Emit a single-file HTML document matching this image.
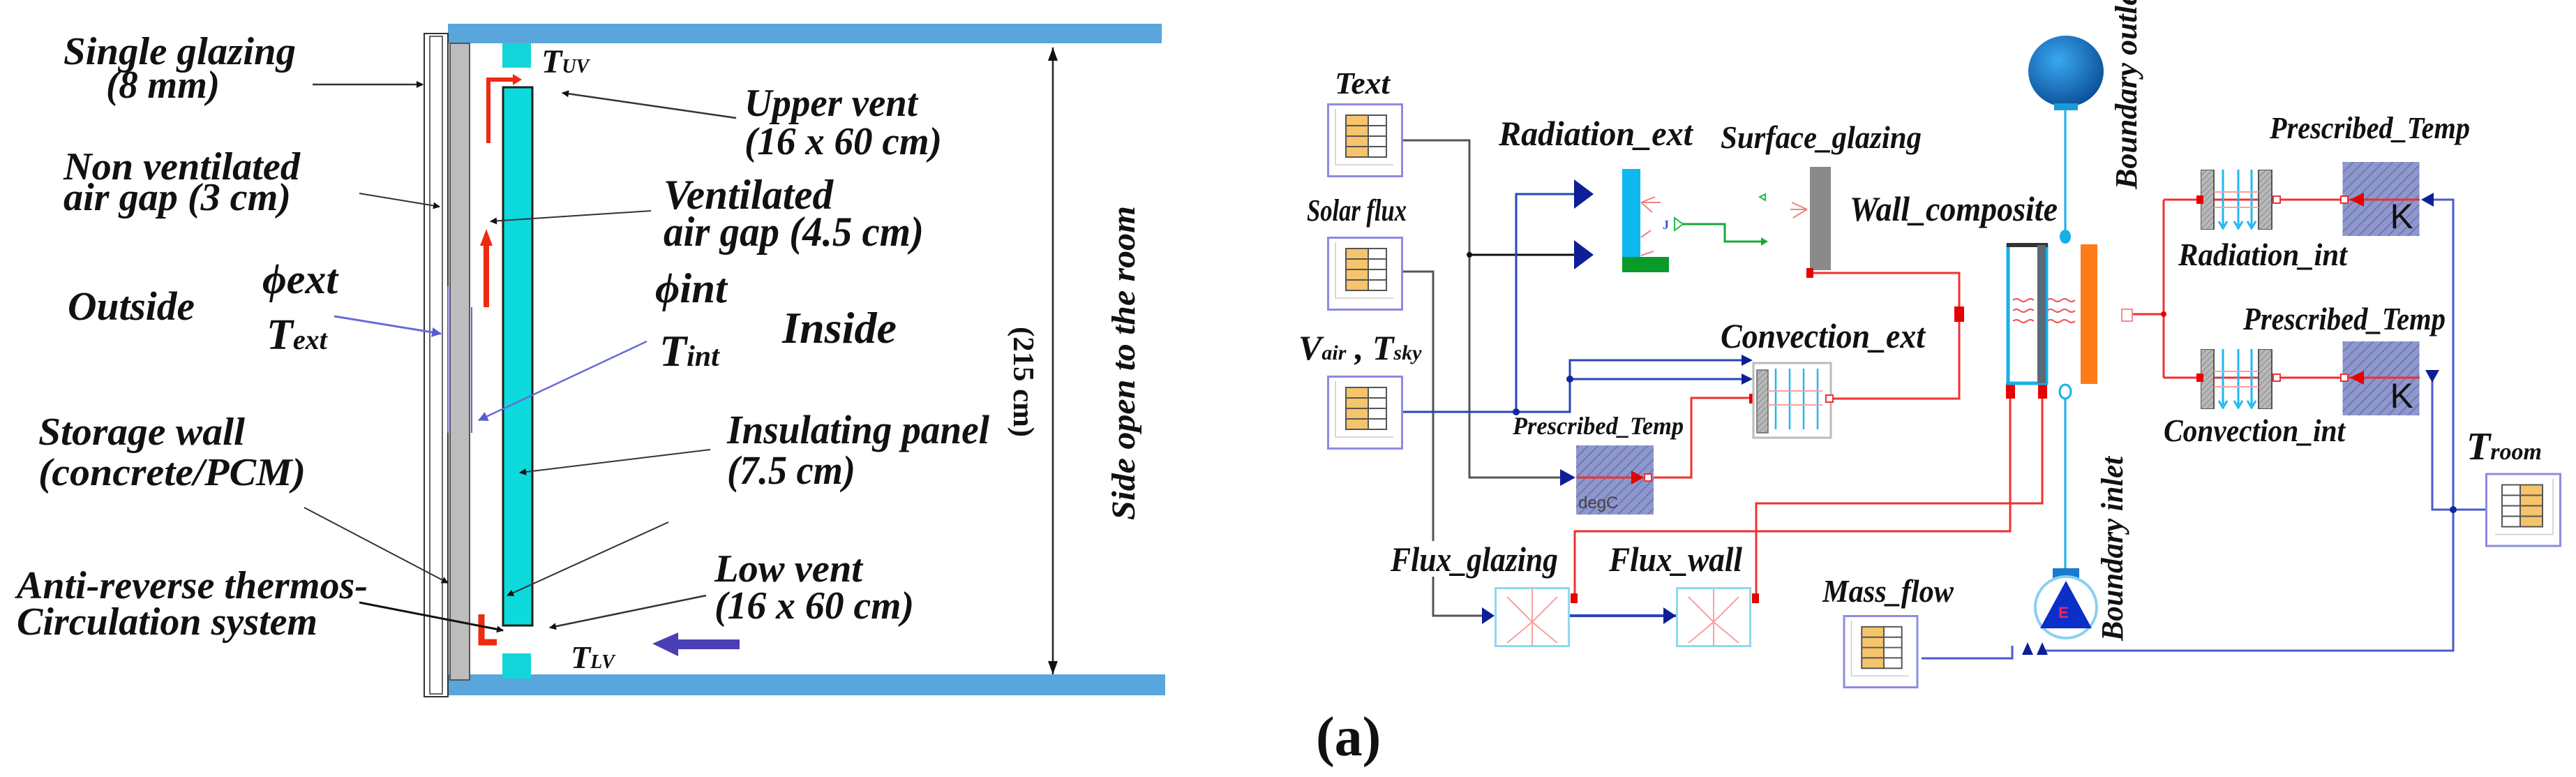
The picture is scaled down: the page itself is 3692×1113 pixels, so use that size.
<!DOCTYPE html>
<html><head><meta charset="utf-8"><style>
html,body{margin:0;padding:0;background:#fff;}
svg{display:block;}
text{font-family:"Liberation Serif",serif;font-style:italic;font-weight:bold;fill:#111;}
</style></head><body>
<svg width="3692" height="1113" viewBox="0 0 3692 1113" xmlns="http://www.w3.org/2000/svg">
<defs>
<pattern id="hatch" width="10" height="10" patternUnits="userSpaceOnUse" patternTransform="rotate(45)">
<rect width="10" height="10" fill="#8f98cc"/><line x1="0" y1="0" x2="0" y2="10" stroke="#6f78b4" stroke-width="4"/></pattern>
<pattern id="ghatch" width="6" height="6" patternUnits="userSpaceOnUse" patternTransform="rotate(45)">
<rect width="6" height="6" fill="#b8b8b8"/><line x1="0" y1="0" x2="0" y2="6" stroke="#888" stroke-width="2"/></pattern>
<symbol id="tbl" viewBox="0 0 109 106">
<rect x="1.5" y="1.5" width="106" height="103" fill="#fff" stroke="#8c8ce0" stroke-width="3"/>
<path d="M12 8 V88 H95" fill="none" stroke="#ccc" stroke-width="1.5"/>
<rect x="27" y="17" width="32" height="60" fill="#f6c46a"/>
<rect x="27" y="17" width="58" height="60" fill="none" stroke="#555" stroke-width="2"/>
<path d="M27 32H85M27 47H85M27 62H85M59 17V77" stroke="#555" stroke-width="2"/>
</symbol>
<symbol id="flux" viewBox="0 0 108 86">
<rect x="1.5" y="1.5" width="105" height="83" fill="#fff" stroke="#8fd8f0" stroke-width="3"/>
<path d="M54 2V84M18 14L54 50L90 80M90 14L54 50L18 80" stroke="#f8a0a0" stroke-width="2" fill="none"/>
</symbol>
<symbol id="intc" viewBox="0 0 104 86">
<rect x="0" y="0" width="19" height="86" fill="url(#ghatch)" stroke="#555" stroke-width="2"/>
<rect x="83" y="0" width="19" height="86" fill="url(#ghatch)" stroke="#555" stroke-width="2"/>
<path d="M32 0V80M54 0V80M73 0V80" stroke="#22b8f0" stroke-width="3"/>
<path d="M26 74l6 10 6-10M48 74l6 10 6-10M67 74l6 10 6-10" fill="none" stroke="#22b8f0" stroke-width="3"/>
<path d="M19 32H83M19 54H83" stroke="#f8a0a0" stroke-width="2"/>
</symbol>
<symbol id="kbox" viewBox="0 0 110 106">
<rect width="110" height="106" fill="url(#hatch)"/>
<text x="68" y="95" style="font-family:'Liberation Sans',sans-serif;font-style:normal;font-weight:normal;font-size:50px;fill:#111">K</text>
</symbol>
<marker id="ah" markerWidth="10" markerHeight="10" refX="9" refY="5" orient="auto" markerUnits="userSpaceOnUse"><path d="M0 0L10 5L0 10z" fill="#111"/></marker>
<marker id="ahb" markerWidth="14" markerHeight="14" refX="13" refY="7" orient="auto" markerUnits="userSpaceOnUse"><path d="M0 0L14 7L0 14z" fill="#5a5ad0"/></marker>
<marker id="ah2" markerWidth="20" markerHeight="20" refX="19" refY="10" orient="auto-start-reverse" markerUnits="userSpaceOnUse"><path d="M0 3L19 10L0 17z" fill="#111"/></marker>
<radialGradient id="sph" cx="0.4" cy="0.35" r="0.7"><stop offset="0" stop-color="#3aa8f0"/><stop offset="1" stop-color="#0a4c96"/></radialGradient>
</defs>

<!-- ================= LEFT DIAGRAM ================= -->
<rect x="642" y="34" width="1023" height="28" fill="#58a6dc"/>
<rect x="642" y="966" width="1028" height="30" fill="#58a6dc"/>
<rect x="608" y="48" width="34" height="950" fill="#fff" stroke="#333" stroke-width="2"/>
<rect x="616" y="52" width="18" height="942" fill="#fff" stroke="#333" stroke-width="1.5"/>
<rect x="645" y="62" width="28" height="912" fill="#bdbdbd" stroke="#555" stroke-width="2"/>
<rect x="720" y="62" width="41" height="35" fill="#12d6da"/>
<rect x="721" y="125" width="42" height="771" fill="#0cdadc" stroke="#222" stroke-width="3"/>
<rect x="720" y="936" width="41" height="36" fill="#12d6da"/>
<path d="M700 205V114H738" fill="none" stroke="#ee2a10" stroke-width="6"/>
<path d="M735 106L748 114L735 122z" fill="#ee2a10"/>
<path d="M697 440V350" stroke="#ee2a10" stroke-width="8"/>
<path d="M688 352L697 328L706 352z" fill="#ee2a10"/>
<path d="M690 880V920H712" fill="none" stroke="#ee2a10" stroke-width="9"/>
<path d="M642 410V620M676 440V620" stroke="#6a5ad8" stroke-width="2"/>
<line x1="479" y1="453" x2="632" y2="478" stroke="#6a6ad8" stroke-width="3" marker-end="url(#ahb)"/>
<line x1="927" y1="489" x2="686" y2="602" stroke="#6a6ad8" stroke-width="2.5" marker-end="url(#ahb)"/>
<path d="M935 922L972 906V916H1060V930H972V940z" fill="#4b3fb5"/>
<line x1="448" y1="121" x2="606" y2="121" stroke="#333" stroke-width="2.5" marker-end="url(#ah)"/>
<line x1="515" y1="277" x2="630" y2="296" stroke="#333" stroke-width="2" marker-end="url(#ah)"/>
<line x1="1055" y1="169" x2="806" y2="133" stroke="#333" stroke-width="2.5" marker-end="url(#ah)"/>
<line x1="933" y1="302" x2="703" y2="317" stroke="#333" stroke-width="2" marker-end="url(#ah)"/>
<line x1="1018" y1="644" x2="745" y2="677" stroke="#333" stroke-width="2" marker-end="url(#ah)"/>
<line x1="958" y1="748" x2="727" y2="853" stroke="#333" stroke-width="2" marker-end="url(#ah)"/>
<line x1="1012" y1="853" x2="788" y2="899" stroke="#333" stroke-width="2.5" marker-end="url(#ah)"/>
<line x1="436" y1="727" x2="642" y2="835" stroke="#333" stroke-width="2" marker-end="url(#ah)"/>
<line x1="515" y1="863" x2="721" y2="903" stroke="#111" stroke-width="3" marker-end="url(#ah)"/>
<line x1="1509" y1="68" x2="1509" y2="966" stroke="#222" stroke-width="2.5" marker-start="url(#ah2)" marker-end="url(#ah2)"/>
<g style="font-weight:normal">
<text x="91" y="92" font-size="56" textLength="333" lengthAdjust="spacingAndGlyphs">Single glazing</text>
<text x="152" y="140" font-size="56" textLength="163" lengthAdjust="spacingAndGlyphs">(8 mm)</text>
<text x="91" y="257" font-size="56" textLength="339" lengthAdjust="spacingAndGlyphs">Non ventilated</text>
<text x="91" y="301" font-size="56" textLength="326" lengthAdjust="spacingAndGlyphs">air gap (3 cm)</text>
<text x="97" y="458" font-size="58" textLength="182" lengthAdjust="spacingAndGlyphs">Outside</text>
<text x="376" y="420" font-size="60" textLength="108" lengthAdjust="spacingAndGlyphs">ϕext</text>
<text x="382" y="500" font-size="62">T<tspan font-size="40">ext</tspan></text>
<text x="55" y="637" font-size="56" textLength="296" lengthAdjust="spacingAndGlyphs">Storage wall</text>
<text x="55" y="695" font-size="56" textLength="383" lengthAdjust="spacingAndGlyphs">(concrete/PCM)</text>
<text x="24" y="857" font-size="56" textLength="503" lengthAdjust="spacingAndGlyphs">Anti-reverse thermos-</text>
<text x="24" y="909" font-size="56" textLength="431" lengthAdjust="spacingAndGlyphs">Circulation system</text>
<text x="776" y="104" font-size="48">T<tspan font-size="28">UV</tspan></text>
<text x="1067" y="166" font-size="56" textLength="248" lengthAdjust="spacingAndGlyphs">Upper vent</text>
<text x="1067" y="221" font-size="56" textLength="283" lengthAdjust="spacingAndGlyphs">(16 x 60 cm)</text>
<text x="951" y="299" font-size="60" textLength="243" lengthAdjust="spacingAndGlyphs">Ventilated</text>
<text x="951" y="352" font-size="60" textLength="373" lengthAdjust="spacingAndGlyphs">air gap (4.5 cm)</text>
<text x="939" y="433" font-size="60" textLength="103" lengthAdjust="spacingAndGlyphs">ϕint</text>
<text x="945" y="524" font-size="64">T<tspan font-size="42">int</tspan></text>
<text x="1121" y="491" font-size="64" textLength="164" lengthAdjust="spacingAndGlyphs">Inside</text>
<text x="1042" y="635" font-size="58" textLength="376" lengthAdjust="spacingAndGlyphs">Insulating panel</text>
<text x="1042" y="693" font-size="58" textLength="184" lengthAdjust="spacingAndGlyphs">(7.5 cm)</text>
<text x="1024" y="833" font-size="56" textLength="212" lengthAdjust="spacingAndGlyphs">Low vent</text>
<text x="1024" y="886" font-size="56" textLength="286" lengthAdjust="spacingAndGlyphs">(16 x 60 cm)</text>
<text x="818" y="957" font-size="46">T<tspan font-size="28">LV</tspan></text>
</g>
<text transform="translate(1453,468) rotate(90)" font-size="42" textLength="158" lengthAdjust="spacingAndGlyphs" style="font-style:normal">(215 cm)</text>
<text transform="translate(1626,745) rotate(-90)" font-size="48" textLength="450" lengthAdjust="spacingAndGlyphs">Side open to the room</text>

<text x="1886" y="1082" font-size="80" style="font-style:normal;font-weight:bold">(a)</text>

<!-- ================= RIGHT DIAGRAM ================= -->
<use href="#tbl" x="1902" y="148" width="109" height="106"/>
<use href="#tbl" x="1902" y="339" width="109" height="106"/>
<use href="#tbl" x="1902" y="538" width="109" height="106"/>
<use href="#tbl" x="2641" y="881" width="109" height="105"/>
<use href="#tbl" x="3562" y="677" width="109" height="107" transform="translate(7233,0) scale(-1,1)"/>
<path d="M2011 201H2106V684H2236" fill="none" stroke="#555" stroke-width="3"/>
<path d="M2106 365H2258" stroke="#111" stroke-width="3"/>
<circle cx="2106" cy="365" r="4" fill="#111"/>
<path d="M2011 389H2054V775M2054 826V882H2124" fill="none" stroke="#555" stroke-width="3"/>
<path d="M2011 590H2250V516H2496M2250 543H2496M2173 590V278H2258" fill="none" stroke="#2a44b8" stroke-width="3"/>
<circle cx="2173" cy="590" r="5" fill="#12279a"/><circle cx="2250" cy="543" r="5" fill="#12279a"/>
<path d="M2256 257L2284 278L2256 299z M2256 344L2284 365L2256 386z" fill="#0d1f96"/>
<path d="M2236 672L2258 684L2236 696z" fill="#0d1f96"/>
<path d="M2496 508L2512 516L2496 524z M2496 535L2512 543L2496 551z" fill="#0d1f96"/>
<path d="M2250 882H2402" stroke="#2a44b8" stroke-width="4"/>
<path d="M2124 870L2142 882L2124 894z M2384 870L2402 882L2384 894z" fill="#0d1f96"/>
<rect x="2325" y="242" width="26" height="128" fill="#10b8f0"/>
<rect x="2325" y="368" width="67" height="22" fill="#0a9a2a"/>
<path d="M2352 290L2372 282M2352 290L2380 290M2352 290L2368 304M2352 340L2366 330M2352 366L2370 360" stroke="#f48080" stroke-width="2"/>
<text x="2383" y="328" font-size="18" style="font-style:normal;fill:#3355cc">J</text>
<path d="M2400 312L2412 321L2400 330z" fill="none" stroke="#22bb44" stroke-width="2"/>
<path d="M2412 321H2472V346H2528" fill="none" stroke="#18a83a" stroke-width="3"/>
<path d="M2524 340L2534 346L2524 352z" fill="#18a83a"/>
<rect x="2594" y="239" width="30" height="148" fill="#8a8a8a"/>
<path d="M2590 300L2568 290M2590 300L2566 300M2590 300L2570 312" stroke="#f48080" stroke-width="2"/>
<path d="M2530 278L2522 282L2530 287z" fill="none" stroke="#22bb44" stroke-width="2"/>
<g fill="none" stroke="#f03030" stroke-width="3">
<path d="M2598 391H2808V571H2624"/>
<path d="M2370 684H2424V570H2513"/>
<path d="M2881 561V761H2257V857"/>
<path d="M2927 561V721H2517V857"/>
<path d="M3057 450H3101M3101 286V541M3101 286H3362M3101 541H3362"/>
</g>
<rect x="2589" y="384" width="10" height="14" fill="#e60000"/>
<rect x="2801" y="439" width="14" height="22" fill="#e60000"/>
<rect x="2507" y="564" width="10" height="14" fill="#e60000"/>
<rect x="2251" y="850" width="10" height="14" fill="#e60000"/>
<rect x="2511" y="850" width="10" height="14" fill="#e60000"/>
<rect x="2875" y="549" width="13" height="22" fill="#e60000"/>
<rect x="2921" y="549" width="13" height="22" fill="#e60000"/>
<rect x="2259" y="638" width="111" height="99" fill="url(#hatch)"/>
<path d="M2260 684H2352" stroke="#f03030" stroke-width="3"/>
<path d="M2338 674L2356 684L2338 694z" fill="#e60000"/>
<rect x="2357" y="679" width="10" height="10" fill="#fff" stroke="#f03030" stroke-width="2"/>
<text x="2262" y="728" font-size="24" style="font-family:'Liberation Sans',sans-serif;font-style:normal;font-weight:normal;fill:#444">degC</text>
<rect x="2513" y="520" width="111" height="107" fill="#fff" stroke="#bbb" stroke-width="3"/>
<rect x="2518" y="530" width="16" height="90" fill="url(#ghatch)" stroke="#666" stroke-width="1.5"/>
<path d="M2545 528V615M2565 528V615M2585 528V615M2605 528V615" stroke="#22b8f0" stroke-width="2.5"/>
<path d="M2534 560H2612M2534 580H2612" stroke="#f8a0a0" stroke-width="2"/>
<rect x="2617" y="566" width="10" height="10" fill="#fff" stroke="#f03030" stroke-width="2"/>
<use href="#flux" x="2142" y="841" width="108" height="86"/>
<use href="#flux" x="2402" y="841" width="108" height="86"/>
<ellipse cx="2961" cy="102" rx="54" ry="51" fill="url(#sph)"/>
<rect x="2944" y="148" width="34" height="10" fill="#1a9ad8"/>
<path d="M2960 157V330M2960 570V814" stroke="#16b0e8" stroke-width="3"/>
<ellipse cx="2960" cy="339" rx="8" ry="10" fill="#16b0e8"/>
<ellipse cx="2960" cy="561" rx="8" ry="10" fill="#fff" stroke="#16b0e8" stroke-width="3"/>
<rect x="2878" y="351" width="55" height="198" fill="none" stroke="#16b0e8" stroke-width="5"/>
<rect x="2876" y="348" width="59" height="6" fill="#333"/>
<rect x="2920" y="351" width="12" height="198" fill="#5a6a78"/>
<rect x="2982" y="350" width="24" height="200" fill="#ff7a18"/>
<path d="M2885 430q5-4 10 0t10 0t10 0M2885 445q5-4 10 0t10 0t10 0M2885 460q5-4 10 0t10 0t10 0M2934 430q5-4 10 0t10 0t10 0t10 0M2934 445q5-4 10 0t10 0t10 0t10 0M2934 460q5-4 10 0t10 0t10 0t10 0" fill="none" stroke="#f05050" stroke-width="2"/>
<rect x="3041" y="443" width="15" height="17" fill="#fff" stroke="#f88" stroke-width="2"/>
<circle cx="3101" cy="450" r="4" fill="#e60000"/>
<rect x="2942" y="814" width="38" height="24" fill="#1a7ad0"/>
<circle cx="2961" cy="870" r="44" fill="#fff" stroke="#8ad0f0" stroke-width="4"/>
<path d="M2961 832L2998 900H2924z" fill="#0b2fc8"/>
<text x="2950" y="885" font-size="22" style="font-family:'Liberation Sans',sans-serif;font-style:normal;fill:#ff2060">E</text>
<use href="#intc" x="3154" y="243" width="104" height="86"/>
<use href="#intc" x="3154" y="500" width="104" height="86"/>
<rect x="3148" y="280" width="10" height="12" fill="#e60000"/>
<rect x="3148" y="535" width="10" height="12" fill="#e60000"/>
<rect x="3258" y="281" width="10" height="10" fill="#fff" stroke="#f03030" stroke-width="2"/>
<rect x="3258" y="536" width="10" height="10" fill="#fff" stroke="#f03030" stroke-width="2"/>
<use href="#kbox" x="3357" y="232" width="111" height="106"/>
<use href="#kbox" x="3357" y="489" width="111" height="106"/>
<path d="M3268 286H3468M3268 541H3468" stroke="#f03030" stroke-width="3"/>
<rect x="3355" y="281" width="10" height="10" fill="#fff" stroke="#f03030" stroke-width="2"/>
<rect x="3355" y="536" width="10" height="10" fill="#fff" stroke="#f03030" stroke-width="2"/>
<path d="M3388 276L3368 286L3388 296z M3388 531L3368 541L3388 551z" fill="#e60000"/>
<path d="M3486 286H3516V932H2927M3486 541V730H3562M2754 943H2884V925" fill="none" stroke="#4a5ad0" stroke-width="3"/>
<circle cx="3516" cy="730" r="5" fill="#12279a"/>
<path d="M3488 276L3470 286L3488 296z M3496 530L3486 548L3476 530z" fill="#0d1f96"/>
<path d="M2898 938L2906 920L2914 938z M2919 938L2927 920L2935 938z" fill="#0d1f96"/>
<text x="1913" y="134" font-size="44" textLength="79" lengthAdjust="spacingAndGlyphs">Text</text>
<text x="1873" y="316" font-size="44" textLength="143" lengthAdjust="spacingAndGlyphs">Solar flux</text>
<text x="1861" y="515" font-size="50">V<tspan font-size="30">air</tspan> , T<tspan font-size="30">sky</tspan></text>
<text x="2148" y="208" font-size="50" textLength="278" lengthAdjust="spacingAndGlyphs">Radiation_ext</text>
<text x="2466" y="212" font-size="46" textLength="288" lengthAdjust="spacingAndGlyphs">Surface_glazing</text>
<text x="2651" y="316" font-size="50" textLength="298" lengthAdjust="spacingAndGlyphs">Wall_composite</text>
<text x="2466" y="498" font-size="50" textLength="293" lengthAdjust="spacingAndGlyphs">Convection_ext</text>
<text x="2168" y="622" font-size="36" textLength="245" lengthAdjust="spacingAndGlyphs">Prescribed_Temp</text>
<text x="1993" y="818" font-size="50" textLength="240" lengthAdjust="spacingAndGlyphs">Flux_glazing</text>
<text x="2306" y="818" font-size="50" textLength="191" lengthAdjust="spacingAndGlyphs">Flux_wall</text>
<text x="2612" y="862" font-size="46" textLength="188" lengthAdjust="spacingAndGlyphs">Mass_flow</text>
<text x="3253" y="198" font-size="44" textLength="287" lengthAdjust="spacingAndGlyphs">Prescribed_Temp</text>
<text x="3122" y="380" font-size="46" textLength="242" lengthAdjust="spacingAndGlyphs">Radiation_int</text>
<text x="3215" y="472" font-size="46" textLength="290" lengthAdjust="spacingAndGlyphs">Prescribed_Temp</text>
<text x="3101" y="632" font-size="46" textLength="260" lengthAdjust="spacingAndGlyphs">Convection_int</text>
<text x="3535" y="658" font-size="56">T<tspan font-size="34">room</tspan></text>
<text transform="translate(3062,271) rotate(-90)" font-size="44">Boundary outlet</text>
<text transform="translate(3042,918) rotate(-90)" font-size="44" textLength="264" lengthAdjust="spacingAndGlyphs">Boundary inlet</text>
</svg>
</body></html>
